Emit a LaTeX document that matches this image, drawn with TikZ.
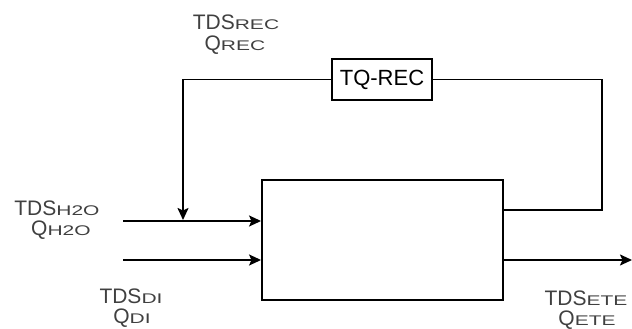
\documentclass[tikz,border=0pt]{standalone}
\usepackage{fontspec}
\setmainfont{Liberation Sans}
\usepackage{graphicx}
\usetikzlibrary{arrows.meta}
\definecolor{lblgray}{HTML}{404040}
\newcommand{\subsc}[1]{\scalebox{1.5}[1]{\fontsize{14}{14}\selectfont #1}}
\begin{document}
\begin{tikzpicture}[x=1pt,y=-1pt,
  flow/.style={line width=1.9pt},
  arr/.style={flow,-{Stealth[length=12pt,width=11pt,inset=2.5pt]}},
  lbl/.style={anchor=base,inner sep=0pt,text=lblgray,font=\fontsize{21}{21}\selectfont},
  boxstyle/.style={draw,line width=1.9pt,inner sep=0pt}]
\useasboundingbox (0,0) rectangle (632,329);
% main box
\node[boxstyle,minimum width=241pt,minimum height=120pt] (main) at (382.5,240) {};
% recycle box
\node[boxstyle,minimum width=100pt,minimum height=41pt,font=\fontsize{22}{22}\selectfont] (tq) at (382,79.5) {TQ-REC};
% coordinates
\coordinate (in1s) at (123,221);
\coordinate (in1e) at (main.west |- in1s);
\coordinate (in2s) at (123,260);
\coordinate (in2e) at (main.west |- in2s);
\coordinate (recout) at (main.east |- 0,210);
\coordinate (rc) at (602,79.5);
\coordinate (lc) at (183,79.5);
\coordinate (ltip) at (183,220);
\coordinate (outs) at (main.east |- 0,260);
\coordinate (oute) at (632,260);
% connectors
\draw[arr] (in1s) -- (in1e);
\draw[arr] (in2s) -- (in2e);
\draw[flow] (recout) -- (recout -| rc) -- (rc) -- (tq.east);
\draw[arr] (tq.west) -- (lc) -- (ltip);
\draw[arr] (outs) -- (oute);
% labels
\node[lbl] (recA) at (236,30) {TDS\subsc{REC}};
\node[lbl] (recB) at (235,51) {Q\subsc{REC}};
\node[lbl] (h2oA) at (57,215) {TDS\subsc{H2O}};
\node[lbl] (h2oB) at (61,235) {Q\subsc{H2O}};
\node[lbl] (diA) at (131,303) {TDS\subsc{DI}};
\node[lbl] (diB) at (132,323) {Q\subsc{DI}};
\node[lbl] (eteA) at (586,305) {TDS\subsc{ETE}};
\node[lbl] (eteB) at (587,325) {Q\subsc{ETE}};
\end{tikzpicture}
\end{document}
